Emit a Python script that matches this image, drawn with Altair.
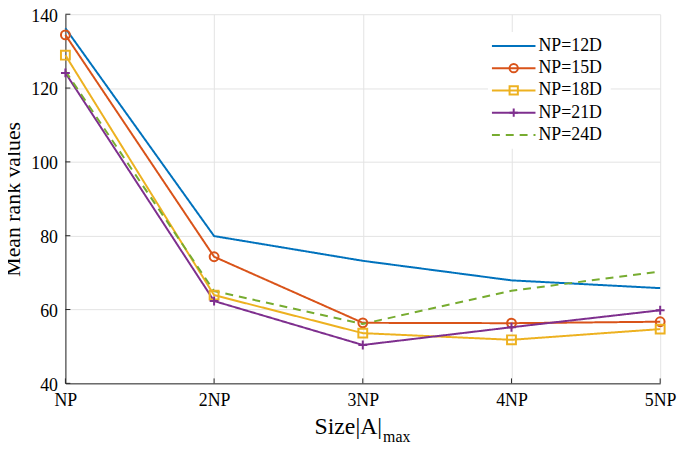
import altair as alt
import pandas as pd

x_labels = ["NP", "2NP", "3NP", "4NP", "5NP"]
series = ["NP=12D", "NP=15D", "NP=18D", "NP=21D", "NP=24D"]
v12 = [136.2, 79.9, 73.2, 67.9, 65.8]
v15 = [134.4, 74.3, 56.4, 56.3, 56.7]
v18 = [128.9, 63.9, 53.6, 51.8, 54.7]
v21 = [124.1, 62.3, 50.4, 55.2, 59.8]
v24 = [124.6, 65.0, 56.1, 65.1, 70.3]
y_ticks = [40, 60, 80, 100, 120, 140]

colors = ["#0072BD", "#D95319", "#EDB120", "#7E2F8E", "#77AC30"]
dashes = [[1, 0], [1, 0], [1, 0], [1, 0], [8, 6]]
marker_series = ["NP=15D", "NP=18D", "NP=21D"]
marker_shapes = ["circle", "square", "M-1,0L1,0M0,-1L0,1"]

FONT = "Liberation Serif"
W, H = 601, 373

rows = []
for s, vals in zip(series, [v12, v15, v18, v21, v24]):
    for xl, v in zip(x_labels, vals):
        rows.append({"x": xl, "series": s, "value": v})
df = pd.DataFrame(rows)
leg = pd.DataFrame({"series": series})

color = alt.Color("series:N", scale=alt.Scale(domain=series, range=colors), legend=None)
dash = alt.StrokeDash("series:N", scale=alt.Scale(domain=series, range=dashes), legend=None)
shape = alt.Shape("series:N", scale=alt.Scale(domain=marker_series, range=marker_shapes), legend=None)

x_scale = alt.Scale(type="point", domain=x_labels, padding=0)
y_scale = alt.Scale(domain=[40, 140], nice=False, zero=False)

x_enc = alt.X("x:O", sort=x_labels, scale=x_scale,
              axis=alt.Axis(title=None, labelAngle=0, grid=True, gridColor="#e3e3e3",
                            domainColor="#262626", tickSize=0, labelPadding=8,
                            labelFont=FONT, labelFontSize=18, labelColor="#000"))
y_enc = alt.Y("value:Q", scale=y_scale,
              axis=alt.Axis(values=y_ticks, title="Mean rank values", grid=True,
                            gridColor="#e3e3e3", domainColor="#262626", tickSize=0,
                            labelPadding=8, labelOffset=2, labelFont=FONT, labelFontSize=18,
                            labelColor="#000", titleFont=FONT, titleFontSize=22,
                            titleFontWeight="normal", titleColor="#000",
                            titleX=-46, titleY=H / 2, titleAngle=270,
                            titleAlign="center", titleBaseline="alphabetic"))
y_noaxis = alt.Y("value:Q", scale=y_scale, axis=None)
x_plain = alt.X("x:O", sort=x_labels, scale=x_scale)

lines = alt.Chart(df).mark_line(strokeWidth=2).encode(x=x_enc, y=y_enc, color=color, strokeDash=dash)
points = alt.Chart(df).transform_filter(
    alt.FieldOneOfPredicate(field="series", oneOf=marker_series)
).mark_point(filled=False, strokeWidth=2, size=80, opacity=1).encode(
    x=x_plain, y=y_noaxis, color=color, shape=shape)

# inward tick marks
xt_df = pd.DataFrame({"x": x_labels})
x_ticks = alt.Chart(xt_df).mark_rule(color="#262626", strokeWidth=1).encode(
    x=x_plain, y=alt.value(H), y2=alt.value(H - 5))
yt_df = pd.DataFrame({"value": y_ticks})
y_ticks_m = alt.Chart(yt_df).mark_rule(color="#262626", strokeWidth=1).encode(
    y=y_noaxis, x=alt.value(0), x2=alt.value(5))

# legend
leg_y = alt.Y("series:N", scale=alt.Scale(type="point", domain=series, range=[32, 122], padding=0), axis=None)
leg_bg = alt.Chart(pd.DataFrame({"a": [0]})).mark_rect(fill="white").encode(
    x=alt.value(427), x2=alt.value(551), y=alt.value(18), y2=alt.value(136))
leg_lines = alt.Chart(leg).mark_rule(strokeWidth=2).encode(
    x=alt.value(431), x2=alt.value(475), y=leg_y, color=color, strokeDash=dash)
leg_pts = alt.Chart(leg).transform_filter(
    alt.FieldOneOfPredicate(field="series", oneOf=marker_series)
).mark_point(filled=False, strokeWidth=2, size=70, opacity=1).encode(
    x=alt.value(453), y=leg_y, color=color, shape=shape)
leg_text = alt.Chart(leg).mark_text(align="left", baseline="middle", font=FONT,
                                    fontSize=18, color="#000").encode(
    x=alt.value(478), y=leg_y, text="series:N")

xt1 = alt.Chart(pd.DataFrame({"t": ["Size|A|"]})).mark_text(
    align="right", baseline="alphabetic", font=FONT, fontSize=24, color="#000").encode(
    x=alt.value(320), y=alt.value(424), text="t:N")
xt2 = alt.Chart(pd.DataFrame({"t": ["max"]})).mark_text(
    align="left", baseline="alphabetic", font=FONT, fontSize=16, color="#000").encode(
    x=alt.value(321), y=alt.value(432), text="t:N")

chart = alt.layer(lines, points, x_ticks, y_ticks_m, leg_bg, leg_lines, leg_pts, leg_text,
                  xt1, xt2).resolve_scale(
    y="independent"
).properties(
    width=W, height=H,
    autosize=alt.AutoSizeParams(type="none"),
    padding={"left": 58, "top": 4, "right": 17, "bottom": 60},
).configure_view(stroke=None)

chart.save("out.html", embed_options={"renderer": "svg", "actions": False})
